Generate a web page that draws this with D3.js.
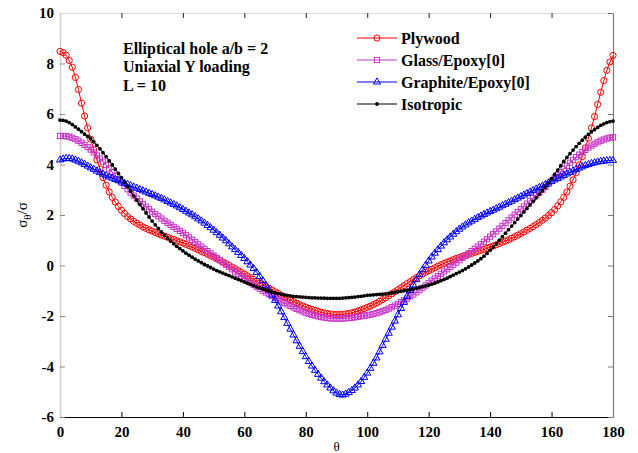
<!DOCTYPE html>
<html>
<head>
<meta charset="utf-8">
<script src="https://cdn.jsdelivr.net/npm/d3@7"></script>
<style>
  html, body { margin: 0; padding: 0; background: #fff; }
  svg text { font-family: "Liberation Serif", "Times New Roman", serif; }
</style>
</head>
<body>
<div id="chart"></div>
<script>
// angle grid (degrees), one sample per degree
const theta = d3.range(0, 181);

const plywood = [
  8.48, 8.43, 8.33, 8.12, 7.85, 7.45, 6.97, 6.43, 5.92, 5.45,
  5.0, 4.58, 4.18, 3.82, 3.48, 3.18, 2.92, 2.7, 2.51, 2.34,
  2.19, 2.06, 1.94, 1.84, 1.75, 1.67, 1.6, 1.53, 1.47, 1.41,
  1.36, 1.31, 1.26, 1.21, 1.16, 1.12, 1.07, 1.03, 0.98, 0.94,
  0.89, 0.84, 0.79, 0.73, 0.68, 0.62, 0.56, 0.51, 0.45, 0.39,
  0.33, 0.27, 0.21, 0.14, 0.08, 0.01, -0.06, -0.13, -0.2, -0.27,
  -0.34, -0.41, -0.48, -0.55, -0.62, -0.69, -0.76, -0.83, -0.9, -0.97,
  -1.04, -1.11, -1.18, -1.25, -1.31, -1.37, -1.43, -1.49, -1.55, -1.6,
  -1.65, -1.7, -1.74, -1.78, -1.82, -1.85, -1.88, -1.9, -1.92, -1.93,
  -1.94, -1.94, -1.93, -1.92, -1.9, -1.87, -1.84, -1.8, -1.76, -1.71,
  -1.66, -1.61, -1.55, -1.49, -1.42, -1.35, -1.28, -1.2, -1.12, -1.04,
  -0.96, -0.88, -0.8, -0.72, -0.64, -0.56, -0.48, -0.41, -0.34, -0.27,
  -0.21, -0.15, -0.09, -0.03, 0.03, 0.08, 0.13, 0.18, 0.23, 0.28,
  0.32, 0.36, 0.4, 0.44, 0.48, 0.52, 0.56, 0.6, 0.64, 0.68,
  0.73, 0.77, 0.82, 0.87, 0.92, 0.97, 1.02, 1.08, 1.14, 1.2,
  1.26, 1.33, 1.4, 1.47, 1.54, 1.62, 1.7, 1.79, 1.88, 1.98,
  2.09, 2.22, 2.36, 2.52, 2.7, 2.91, 3.14, 3.39, 3.67, 3.98,
  4.31, 4.66, 5.04, 5.45, 5.9, 6.38, 6.86, 7.32, 7.73, 8.06, 8.32
];

const glassEpoxy = [
  5.13, 5.13, 5.12, 5.1, 5.06, 5.0, 4.94, 4.86, 4.78, 4.69,
  4.59, 4.48, 4.36, 4.24, 4.11, 3.98, 3.84, 3.7, 3.56, 3.42,
  3.28, 3.15, 3.02, 2.89, 2.77, 2.65, 2.54, 2.43, 2.33, 2.23,
  2.13, 2.04, 1.95, 1.86, 1.77, 1.69, 1.61, 1.53, 1.45, 1.37,
  1.29, 1.2, 1.11, 1.02, 0.93, 0.84, 0.75, 0.66, 0.57, 0.48,
  0.39, 0.3, 0.21, 0.12, 0.03, -0.06, -0.15, -0.24, -0.33, -0.42,
  -0.51, -0.6, -0.68, -0.76, -0.84, -0.92, -1.0, -1.07, -1.14, -1.21,
  -1.28, -1.35, -1.42, -1.48, -1.54, -1.6, -1.66, -1.72, -1.77, -1.82,
  -1.87, -1.91, -1.95, -1.98, -2.01, -2.04, -2.06, -2.08, -2.09, -2.1,
  -2.1, -2.1, -2.1, -2.09, -2.08, -2.07, -2.05, -2.03, -2.01, -1.99,
  -1.97, -1.95, -1.92, -1.89, -1.85, -1.81, -1.76, -1.71, -1.65, -1.59,
  -1.52, -1.45, -1.38, -1.31, -1.23, -1.15, -1.06, -0.97, -0.88, -0.79,
  -0.69, -0.6, -0.51, -0.42, -0.33, -0.24, -0.15, -0.06, 0.03, 0.12,
  0.21, 0.3, 0.39, 0.48, 0.57, 0.66, 0.75, 0.84, 0.94, 1.04,
  1.14, 1.24, 1.35, 1.46, 1.57, 1.68, 1.79, 1.9, 2.01, 2.12,
  2.23, 2.34, 2.45, 2.56, 2.67, 2.78, 2.89, 3.0, 3.11, 3.23,
  3.35, 3.47, 3.59, 3.71, 3.83, 3.95, 4.07, 4.18, 4.29, 4.39,
  4.49, 4.58, 4.67, 4.75, 4.82, 4.88, 4.94, 4.99, 5.03, 5.06, 5.08
];

const graphiteEpoxy = [
  4.18, 4.22, 4.24, 4.24, 4.22, 4.18, 4.13, 4.07, 4.01, 3.94,
  3.87, 3.81, 3.74, 3.68, 3.62, 3.56, 3.51, 3.46, 3.41, 3.36,
  3.31, 3.26, 3.21, 3.16, 3.11, 3.06, 3.01, 2.96, 2.91, 2.86,
  2.81, 2.76, 2.71, 2.66, 2.6, 2.54, 2.48, 2.42, 2.36, 2.29,
  2.22, 2.15, 2.08, 2.01, 1.93, 1.85, 1.77, 1.68, 1.59, 1.5,
  1.4, 1.3, 1.2, 1.09, 0.98, 0.86, 0.74, 0.63, 0.52, 0.4,
  0.28, 0.15, 0.02, -0.12, -0.27, -0.43, -0.6, -0.78, -0.97, -1.17,
  -1.38, -1.6, -1.83, -2.06, -2.29, -2.52, -2.75, -2.98, -3.2, -3.41,
  -3.61, -3.8, -3.98, -4.15, -4.31, -4.46, -4.6, -4.73, -4.85, -4.96,
  -5.05, -5.11, -5.13, -5.09, -5.03, -4.95, -4.85, -4.73, -4.59, -4.43,
  -4.26, -4.07, -3.87, -3.66, -3.42, -3.17, -2.92, -2.68, -2.44, -2.2,
  -1.95, -1.7, -1.46, -1.22, -0.99, -0.77, -0.56, -0.36, -0.17, 0.01,
  0.18, 0.34, 0.49, 0.63, 0.77, 0.9, 1.02, 1.13, 1.24, 1.34,
  1.44, 1.53, 1.61, 1.69, 1.76, 1.83, 1.9, 1.96, 2.02, 2.08,
  2.14, 2.19, 2.25, 2.31, 2.37, 2.43, 2.49, 2.55, 2.61, 2.67,
  2.73, 2.79, 2.85, 2.91, 2.97, 3.03, 3.09, 3.15, 3.21, 3.27,
  3.33, 3.39, 3.45, 3.51, 3.57, 3.63, 3.69, 3.75, 3.81, 3.86,
  3.91, 3.96, 4.0, 4.04, 4.07, 4.1, 4.12, 4.14, 4.15, 4.16, 4.16
];

const isotropic = [
  5.76, 5.75, 5.72, 5.66, 5.58, 5.49, 5.4, 5.3, 5.2, 5.11,
  5.02, 4.9, 4.76, 4.62, 4.47, 4.31, 4.15, 3.99, 3.82, 3.65,
  3.48, 3.3, 3.12, 2.94, 2.76, 2.59, 2.42, 2.25, 2.08, 1.92,
  1.76, 1.61, 1.47, 1.33, 1.2, 1.08, 0.97, 0.86, 0.76, 0.67,
  0.58, 0.49, 0.41, 0.33, 0.25, 0.18, 0.11, 0.04, -0.02, -0.08,
  -0.14, -0.2, -0.25, -0.3, -0.35, -0.4, -0.45, -0.5, -0.55, -0.6,
  -0.65, -0.7, -0.75, -0.8, -0.85, -0.89, -0.93, -0.97, -1.01, -1.05,
  -1.08, -1.11, -1.14, -1.16, -1.18, -1.2, -1.22, -1.23, -1.24, -1.25,
  -1.26, -1.27, -1.28, -1.28, -1.29, -1.29, -1.29, -1.3, -1.3, -1.3,
  -1.3, -1.3, -1.29, -1.28, -1.27, -1.26, -1.25, -1.23, -1.22, -1.2,
  -1.18, -1.17, -1.16, -1.15, -1.14, -1.13, -1.12, -1.1, -1.08, -1.06,
  -1.04, -1.02, -1.0, -0.98, -0.96, -0.93, -0.9, -0.87, -0.84, -0.81,
  -0.78, -0.74, -0.7, -0.65, -0.6, -0.55, -0.5, -0.44, -0.38, -0.32,
  -0.26, -0.2, -0.13, -0.06, 0.02, 0.1, 0.18, 0.27, 0.37, 0.48,
  0.6, 0.73, 0.86, 1.0, 1.14, 1.28, 1.42, 1.56, 1.7, 1.84,
  1.98, 2.12, 2.26, 2.4, 2.54, 2.68, 2.82, 2.96, 3.1, 3.27,
  3.44, 3.61, 3.78, 3.95, 4.12, 4.28, 4.43, 4.57, 4.71, 4.84,
  4.96, 5.08, 5.19, 5.29, 5.38, 5.47, 5.55, 5.61, 5.66, 5.7, 5.72
];

const xTicks = [0, 20, 40, 60, 80, 100, 120, 140, 160, 180];
const yTicks = [-6, -4, -2, 0, 2, 4, 6, 8, 10];
const noteLines = ["Elliptical hole a/b = 2", "Uniaxial Y loading", "L = 10"];

const series = [
  { name: "Plywood",            values: plywood,       color: "#ff0000", marker: "circle" },
  { name: "Glass/Epoxy[0]",     values: glassEpoxy,    color: "#c832c8", marker: "square" },
  { name: "Graphite/Epoxy[0]",  values: graphiteEpoxy, color: "#0000ff", marker: "triangle" },
  { name: "Isotropic",          values: isotropic,     color: "#000000", marker: "dot" }
];

const W = 638, H = 453;
const plot = { l: 60, r: 613, t: 13, b: 417 };

const x = d3.scaleLinear().domain([0, 180]).range([plot.l, plot.r]);
const y = d3.scaleLinear().domain([-6, 10]).range([plot.b, plot.t]);

const svg = d3.select("#chart").append("svg")
  .attr("width", W).attr("height", H);

// plain hyphen for negatives, as in the original
const fmt = d => String(d);

// axes (ticks point inward, like the original box)
const gBottom = svg.append("g").attr("transform", `translate(0,${plot.b})`)
  .call(d3.axisBottom(x).tickValues(xTicks).tickFormat(fmt).tickSizeInner(-5).tickSizeOuter(0).tickPadding(9));
const gLeft = svg.append("g").attr("transform", `translate(${plot.l},0)`)
  .call(d3.axisLeft(y).tickValues(yTicks).tickFormat(fmt).tickSizeInner(-5).tickSizeOuter(0).tickPadding(6));
const gTop = svg.append("g").attr("transform", `translate(0,${plot.t})`)
  .call(d3.axisTop(x).tickValues(xTicks).tickSizeInner(-5).tickSizeOuter(0).tickFormat(""));
const gRight = svg.append("g").attr("transform", `translate(${plot.r},0)`)
  .call(d3.axisRight(y).tickValues(yTicks).tickSizeInner(-5).tickSizeOuter(0).tickFormat(""));

gBottom.select(".domain").attr("stroke", "#000").attr("stroke-width", 1.2);
gBottom.selectAll(".tick line").attr("stroke", "#000");
gLeft.select(".domain").attr("stroke", "#cfcfcf").attr("stroke-width", 1.5);
gLeft.selectAll(".tick line").attr("stroke", "#888");
gTop.select(".domain").attr("stroke", "#dcdcdc");
gTop.selectAll(".tick line").attr("stroke", "#222");
gRight.select(".domain").attr("stroke", "#7a7a7a").attr("stroke-width", 1.2);
gRight.selectAll(".tick line").attr("stroke", "#777");

[gBottom, gLeft].forEach(g => g.selectAll(".tick text")
  .attr("fill", "#000")
  .style("font-family", '"Liberation Serif", serif')
  .style("font-size", "15px")
  .style("font-weight", "bold"));
gTop.selectAll(".tick").filter(d => d === 0 || d === 180).remove();
gBottom.selectAll(".tick").filter(d => d === 0 || d === 180).select("line").remove();

// series
const line = d3.line().x((d, i) => x(theta[i])).y(d => y(d));
const gData = svg.append("g");

function drawMarker(g, type, color, px, py) {
  if (type === "circle") {
    g.append("circle").attr("cx", px).attr("cy", py).attr("r", 3.1)
      .attr("fill", "none").attr("stroke", color).attr("stroke-width", 1);
  } else if (type === "square") {
    g.append("rect").attr("x", px - 2.6).attr("y", py - 2.6)
      .attr("width", 5.2).attr("height", 5.2)
      .attr("fill", "none").attr("stroke", color).attr("stroke-width", 1);
  } else if (type === "triangle") {
    g.append("path").attr("transform", `translate(${px},${py})`)
      .attr("d", d3.symbol(d3.symbolTriangle, 22)())
      .attr("fill", "none").attr("stroke", color).attr("stroke-width", 1);
  } else {
    g.append("circle").attr("cx", px).attr("cy", py).attr("r", 1.9)
      .attr("fill", color);
  }
}

series.forEach(s => {
  const g = gData.append("g");
  g.append("path").datum(s.values)
    .attr("d", line).attr("fill", "none")
    .attr("stroke", s.color).attr("stroke-width", 1);
  s.values.forEach((v, i) => drawMarker(g, s.marker, s.color, x(theta[i]), y(v)));
});

// legend
const leg = svg.append("g");
series.forEach((s, i) => {
  const cy = 38 + i * 22;
  leg.append("line").attr("x1", 357).attr("x2", 397).attr("y1", cy).attr("y2", cy)
    .attr("stroke", s.color).attr("stroke-width", 1.2);
  drawMarker(leg, s.marker, s.color, 377, cy);
  leg.append("text").attr("x", 401).attr("y", cy + 5.5)
    .style("font-size", "16px").style("font-weight", "bold").text(s.name);
});

// note text
svg.append("g").selectAll("text").data(noteLines).join("text")
  .attr("x", 123).attr("y", (d, i) => 54 + i * 18.3)
  .style("font-size", "16px").style("font-weight", "bold")
  .text(d => d);

// axis titles
svg.append("text").attr("x", (plot.l + plot.r) / 2).attr("y", 451)
  .attr("text-anchor", "middle").style("font-size", "13px").text("θ");

const yl = svg.append("text")
  .attr("transform", `translate(27,${(plot.t + plot.b) / 2}) rotate(-90)`)
  .attr("text-anchor", "middle").style("font-size", "15px");
yl.append("tspan").text("σ");
yl.append("tspan").attr("dy", 4).style("font-size", "11px").text("θ");
yl.append("tspan").attr("dy", -4).text("/σ");
</script>
</body>
</html>
